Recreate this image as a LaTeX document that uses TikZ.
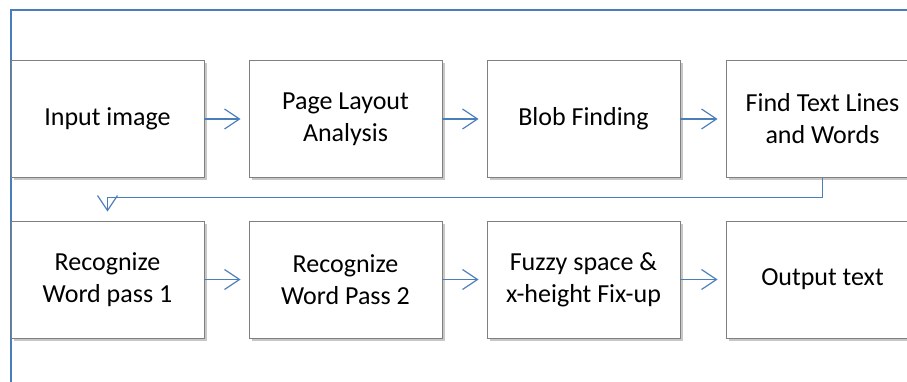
\documentclass[tikz,border=0pt]{standalone}
\usepackage{fontspec}
\setmainfont{Carlito}
\usetikzlibrary{arrows.meta,shadows}
\definecolor{flowblue}{RGB}{74,126,187}
\definecolor{boxgray}{RGB}{128,128,128}

\begin{document}
\begin{tikzpicture}[x=1pt,y=-1pt,
    stepbox/.style={draw=boxgray, line width=0.8pt, fill=white,
      minimum width=193pt, minimum height=117pt, inner sep=0pt,
      align=center, font=\fontsize{26}{32}\selectfont,
      drop shadow={shadow xshift=2.5pt, shadow yshift=-2.5pt, fill=black, opacity=0.22}},
    flow/.style={draw=flowblue, line width=1.2pt, shorten >=8pt,
      -{Straight Barb[length=15pt,width=20pt]}}]
  \useasboundingbox (0,0) rectangle (907,382);

  % frame
  \draw[flowblue, line width=1.2pt] (11,382) -- (11,10) -- (907,10);

  % boxes, first row then second row
  \foreach \name/\x/\txt in {input/107.5/Input image,
      layout/345.5/Page Layout\\Analysis,
      blob/583.5/Blob Finding,
      lines/822.5/Find Text Lines\\and Words}
    \node[stepbox] (\name) at (\x,119) {\txt};
  \foreach \name/\x/\txt in {pass1/107.5/Recognize\\Word pass 1,
      pass2/345.5/Recognize\\Word Pass 2,
      fuzzy/583.5/Fuzzy space \&\\x-height Fix-up,
      output/822.5/Output text}
    \node[stepbox] (\name) at (\x,279.5) {\txt};

  % connectors
  \draw[flow] (input) -- (layout);
  \draw[flow] (layout) -- (blob);
  \draw[flow] (blob) -- (lines);
  \draw[flow, shorten >=9pt] (lines.south) -- ++(0,20) -| (pass1.north);
  \draw[flow] (pass1) -- (pass2);
  \draw[flow] (pass2) -- (fuzzy);
  \draw[flow] (fuzzy) -- (output);
\end{tikzpicture}
\end{document}
